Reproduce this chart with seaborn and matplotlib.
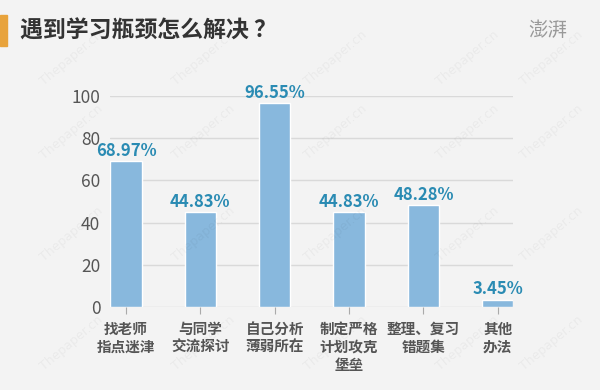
import matplotlib
matplotlib.use("Agg")
import matplotlib.pyplot as plt
import seaborn as sns
from matplotlib.patches import Rectangle

# data
categories = ["找老师\n指点迷津", "与同学\n交流探讨", "自己分析\n薄弱所在",
              "制定严格\n计划攻克\n堡垒", "整理、复习\n错题集", "其他\n办法"]
values = [68.97, 44.83, 96.55, 44.83, 48.28, 3.45]
yticks = [0, 20, 40, 60, 80, 100]

bg = "#f3f3f3"
sns.set_theme(style="white")
plt.rcParams["font.family"] = ["Noto Sans CJK SC", "DejaVu Sans"]

fig = plt.figure(figsize=(6, 3.9), dpi=100, facecolor=bg)
ax = fig.add_axes([0.1833, 0.2128, 0.6717, 0.541])
ax.set_facecolor(bg)

# faint watermarks
for wx in [0.12, 0.34, 0.56, 0.78, 0.92]:
    for wy in [0.12, 0.40, 0.66, 0.85]:
        fig.text(wx, wy, "Thepaper.cn", rotation=40, fontsize=9, color="#000000",
                 alpha=0.04, ha="center", va="center", family="DejaVu Sans")

sns.barplot(x=categories, y=values, color="#88b8dd", saturation=1, width=0.42, ax=ax, zorder=3)

ax.bar_label(ax.containers[0], labels=[f"{v:.2f}%" for v in values], padding=1,
             color="#2a8bb3", fontsize=12, fontweight="bold", clip_on=False)

ax.set_ylim(0, 100)
ax.set_xlim(-0.215, 5.205)
ax.set_yticks(yticks)
ax.yaxis.grid(True, color="#d9d9d9", linewidth=1, zorder=0)
ax.set_axisbelow(True)
for s in ax.spines.values():
    s.set_visible(False)
ax.tick_params(axis="y", length=0, pad=7, labelsize=12.5, labelcolor="#555555")
ax.tick_params(axis="x", bottom=True, length=5, width=0.8, color="#aaaaaa", direction="out",
               pad=5, labelsize=10.5, labelcolor="#555555")
for lab in ax.get_xticklabels():
    lab.set_fontweight("bold")
    lab.set_linespacing(1.15)
    lab.set_va("top")
ax.set_xlabel("")
ax.set_ylabel("")

# title and decorations
fig.patches.append(Rectangle((0, 1 - 46 / 390), 7 / 600, 31 / 390, transform=fig.transFigure,
                             color="#e8a33c", zorder=5))
fig.text(20 / 600, 1 - 31 / 390, "遇到学习瓶颈怎么解决 ？", fontsize=16.5, fontweight="bold",
         color="#333333", va="center", ha="left")
fig.text(548 / 600, 1 - 31 / 390, "澎湃", fontsize=14, color="#999999", va="center", ha="center")

fig.savefig("out.png", dpi=100, facecolor=bg)
